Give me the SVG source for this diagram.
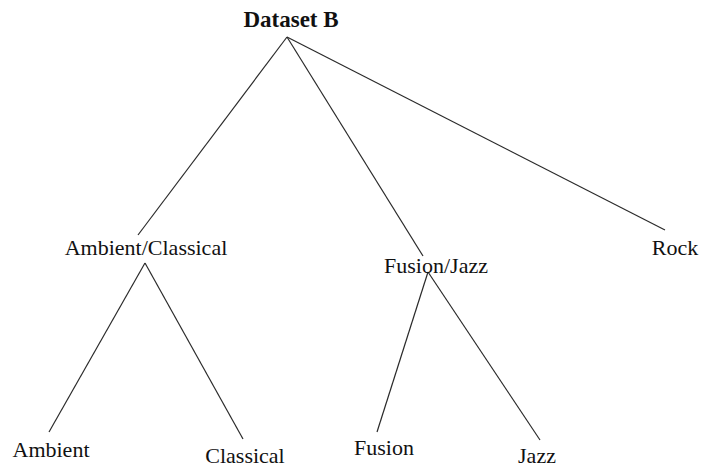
<svg xmlns="http://www.w3.org/2000/svg" width="702" height="470" viewBox="0 0 702 470">
  <style>
    .lbl { font-family: "Liberation Serif", "Times New Roman", serif; font-size: 22px; fill: #111; text-anchor: middle; }
    .root { font-weight: bold; font-size: 23px; }
    .edge { stroke: #2a2a2a; stroke-width: 1.2; fill: none; }
  </style>
  <rect width="702" height="470" fill="#fff"/>
  <g id="connectors">
    <line class="edge" x1="287" y1="37" x2="138" y2="235"/>
    <line class="edge" x1="287" y1="37" x2="423" y2="256"/>
    <line class="edge" x1="287" y1="37" x2="665" y2="230"/>
    <line class="edge" x1="145" y1="263" x2="49" y2="432"/>
    <line class="edge" x1="145" y1="263" x2="243" y2="439"/>
    <line class="edge" x1="428" y1="272" x2="377" y2="432"/>
    <line class="edge" x1="428" y1="272" x2="540" y2="440"/>
  </g>
  <g id="dataset-b"><text class="lbl root" x="291" y="27">Dataset B</text></g>
  <g id="ambient-classical"><text class="lbl" x="146" y="255">Ambient/Classical</text></g>
  <g id="fusion-jazz"><text class="lbl" x="436" y="273">Fusion/Jazz</text></g>
  <g id="rock"><text class="lbl" x="675" y="255">Rock</text></g>
  <g id="ambient"><text class="lbl" x="51" y="457">Ambient</text></g>
  <g id="classical"><text class="lbl" x="245" y="463">Classical</text></g>
  <g id="fusion"><text class="lbl" x="384" y="455">Fusion</text></g>
  <g id="jazz"><text class="lbl" x="537" y="463">Jazz</text></g>
</svg>
